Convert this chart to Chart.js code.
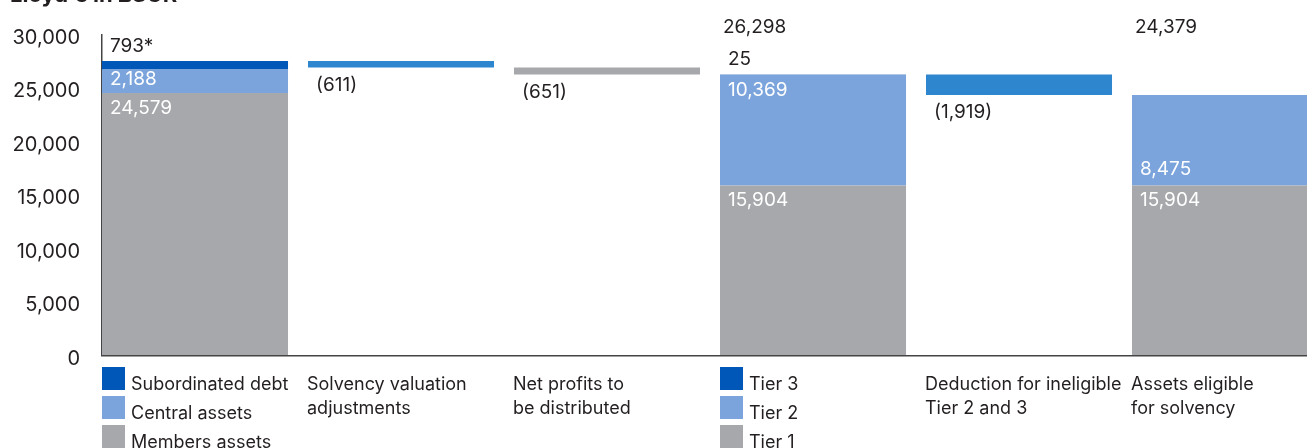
<!DOCTYPE html>
<html><head><meta charset="utf-8">
<script src="https://cdn.jsdelivr.net/npm/chart.js@4.4.1/dist/chart.umd.min.js"></script>
<style>
html,body{margin:0;padding:0;background:#fff;overflow:hidden;}
#wrap{position:relative;width:1307px;height:448px;}
#title{position:absolute;left:10px;top:-17.5px;font:bold 22px Inter,'Liberation Sans',sans-serif;color:#231f20;white-space:nowrap;line-height:22px;}
</style></head><body>
<div id="wrap"><canvas id="c"></canvas><div id="title">Lloyd's in £SCR</div></div>
<script>
// ---- data ----
const categoryLabels = [
  ['Subordinated debt', 'Central assets', 'Members assets'],
  ['Solvency valuation', 'adjustments'],
  ['Net profits to', 'be distributed'],
  ['Tier 3', 'Tier 2', 'Tier 1'],
  ['Deduction for ineligible', 'Tier 2 and 3'],
  ['Assets eligible', 'for solvency']
];
const legendCategories = [true, false, false, true, false, false];
const tier1Values = [24579, null, null, 15904, null, 15904];   // Members assets / Tier 1
const tier2Values = [2188, null, null, 10369, null, 8475];     // Central assets / Tier 2
const tier3Values = [793, null, null, 25, null, null];         // Subordinated debt / Tier 3
const tier3Notes = ['*', '', '', '', '', ''];
const adjustmentValues = [null, -611, -651, null, -1919, null];
const totalLabels = [null, null, null, 26298, null, 24379];
const yTicks = [0, 5000, 10000, 15000, 20000, 25000, 30000];

// ---- styles ----
const GRAY = '#a7a8ab', LIGHT = '#7ba4dc', DARK = '#0057b8', MID = '#2e86cf', TEXT = '#231f20';
const adjustmentColors = [null, MID, GRAY, null, MID, null];
const FONT = "Inter, 'Liberation Sans', sans-serif";

// ---- build floating waterfall bars ----
const t1 = [], t2 = [], t3 = [], adj = [];
let level = 0;
categoryLabels.forEach((_, i) => {
  if (tier1Values[i] != null) {
    let b = 0;
    t1.push({x: i, y: [b, b + tier1Values[i]]}); b += tier1Values[i];
    if (tier2Values[i] != null) { t2.push({x: i, y: [b, b + tier2Values[i]]}); b += tier2Values[i]; }
    if (tier3Values[i] != null) { t3.push({x: i, y: [b, b + tier3Values[i]]}); b += tier3Values[i]; }
    level = b;
  } else if (adjustmentValues[i] != null) {
    adj.push({x: i, y: [level, level + adjustmentValues[i]]});
    level += adjustmentValues[i];
  }
});

const fmt = v => v < 0 ? '(' + Math.abs(v).toLocaleString('en-US') + ')' : v.toLocaleString('en-US');

const labelPlugin = {
  id: 'labels',
  afterDatasetsDraw(chart) {
    const ctx = chart.ctx;
    ctx.save();
    ctx.font = '19px ' + FONT;
    ctx.textBaseline = 'middle';
    ctx.textAlign = 'left';
    const specs = [
      {ds: 0, values: tier1Values, color: '#fff', anchor: () => 'insideTop'},
      {ds: 1, values: tier2Values, color: '#fff', anchor: i => i === 0 ? 'center' : (i === 5 ? 'insideBottom' : 'insideTop')},
      {ds: 2, values: tier3Values, color: TEXT, anchor: () => 'above', notes: tier3Notes},
      {ds: 3, values: adjustmentValues, color: TEXT, anchor: () => 'below'}
    ];
    specs.forEach(s => {
      const meta = chart.getDatasetMeta(s.ds);
      meta.data.forEach((el, k) => {
        const i = chart.data.datasets[s.ds].data[k].x;
        const v = s.values[i];
        const top = Math.min(el.y, el.base), bottom = Math.max(el.y, el.base);
        const left = el.x - el.width / 2;
        let y;
        const a = s.anchor(i);
        if (a === 'insideTop') y = top + 15;
        else if (a === 'insideBottom') y = bottom - 16;
        else if (a === 'center') y = (top + bottom) / 2 - 2;
        else if (a === 'above') y = top - 15;
        else y = bottom + 17.5;
        ctx.fillStyle = s.color;
        ctx.fillText(fmt(v) + (s.notes ? s.notes[i] : ''), left + 8, y);
      });
    });
    // totals
    const xs = chart.scales.x;
    const w = chart.getDatasetMeta(0).data[0].width;
    ctx.fillStyle = TEXT;
    totalLabels.forEach((v, i) => {
      if (v == null) return;
      ctx.fillText(fmt(v), xs.getPixelForValue(i) - w / 2 + 3, chart.chartArea.top - 8);
    });
    ctx.restore();
  },
  afterDraw(chart) {
    const ctx = chart.ctx;
    const xs = chart.scales.x;
    const w = chart.getDatasetMeta(0).data[0].width;
    ctx.save();
    ctx.font = '18px ' + FONT;
    ctx.textBaseline = 'alphabetic';
    ctx.textAlign = 'left';
    const legendColors = [DARK, LIGHT, GRAY];
    categoryLabels.forEach((lines, i) => {
      const left = xs.getPixelForValue(i) - w / 2;
      if (legendCategories[i]) {
        lines.forEach((t, j) => {
          const top = 367 + j * 29;
          ctx.fillStyle = legendColors[j];
          ctx.fillRect(left, top, 23, 23);
          ctx.fillStyle = TEXT;
          ctx.fillText(t, left + 29, top + 22.5);
        });
      } else {
        ctx.fillStyle = TEXT;
        lines.forEach((t, j) => ctx.fillText(t, left - 1, 389.5 + j * 24));
      }
    });
    ctx.restore();
  }
};

new Chart(document.getElementById('c'), {
  type: 'bar',
  data: {
    datasets: [
      {label: 'Tier 1', data: t1, backgroundColor: GRAY},
      {label: 'Tier 2', data: t2, backgroundColor: LIGHT},
      {label: 'Tier 3', data: t3, backgroundColor: DARK},
      {label: 'Adjustments', data: adj, backgroundColor: ctx => adjustmentColors[ctx.raw ? ctx.raw.x : 0] || MID}
    ]
  },
  options: {
    responsive: true,
    maintainAspectRatio: false,
    animation: false,
    layout: {padding: {left: 0, right: 0, top: 35, bottom: 92.5}},
    datasets: {bar: {grouped: false, categoryPercentage: 1, barPercentage: 0.903, borderWidth: 0}},
    plugins: {legend: {display: false}, tooltip: {enabled: false}},
    scales: {
      x: {
        type: 'linear', offset: false, min: -0.4515, max: 5.398,
        afterBuildTicks: s => { s.ticks = categoryLabels.map((_, i) => ({value: i})); },
        ticks: {display: false},
        grid: {display: false, drawTicks: false},
        border: {display: true, color: '#444', width: 1.5, z: 1},
        afterFit: s => { s.height = 0; },
        z: 1
      },
      y: {
        min: 0, max: 30000,
        afterBuildTicks: s => { s.ticks = yTicks.map(v => ({value: v})); },
        ticks: {color: TEXT, font: {family: FONT, size: 20}, padding: 22, labelOffset: 3,
                callback: v => v.toLocaleString('en-US')},
        grid: {display: false, drawTicks: false},
        border: {display: true, color: '#444', width: 1.5},
        afterFit: s => { s.width = 102; },
        z: 1
      }
    }
  },
  plugins: [labelPlugin]
});
</script>
</body></html>
